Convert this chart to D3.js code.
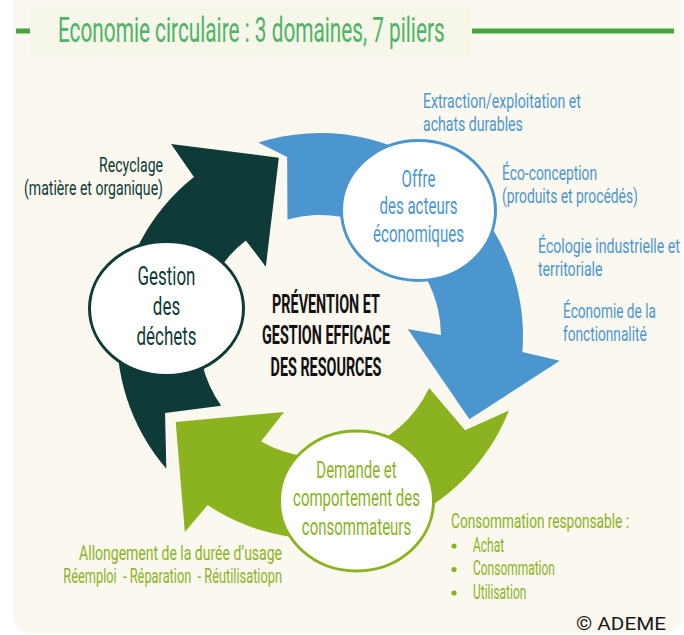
<!DOCTYPE html>
<html>
<head>
<meta charset="utf-8">
<script src="https://d3js.org/d3.v7.min.js"></script>
<style>
  body { margin: 0; background: #fff; }
  text { font-family: Roboto, "Open Sans", sans-serif; white-space: pre; }
</style>
</head>
<body>
<svg id="vis" width="684" height="635"></svg>
<script>
  // - - - - - - - - texts of the diagram - - - - - - - -
  var title = "Economie circulaire : 3 domaines, 7 piliers";
  var centerLines = ["PRÉVENTION ET", "GESTION EFFICACE", "DES RESOURCES"];
  var domainOffre = ["Offre", "des acteurs", "économiques"];
  var domainDemande = ["Demande et", "comportement des", "consommateurs"];
  var domainDechets = ["Gestion", "des", "déchets"];
  var pillarsOffre = [
    ["Extraction/exploitation et", "achats durables"],
    ["Éco-conception", "(produits et procédés)"],
    ["Écologie industrielle et", "territoriale"],
    ["Économie de la", "fonctionnalité"]
  ];
  var pillarConso = "Consommation responsable :";
  var consoItems = ["Achat", "Consommation", "Utilisation"];
  var pillarUsage = ["Allongement de la durée d’usage", "Réemploi  - Réparation  - Réutilisatiopn"];
  var pillarRecyclage = ["Recyclage", "(matière et organique)"];
  var credit = "© ADEME";

  var cream = "#fbf8ef",
      blue = "#4b96cf",
      dark = "#0e3a37",
      green = "#8ab31f";

  var svg = d3.select("#vis");

  // panel
  svg.append("rect")
    .attr("x", 13).attr("y", -16)
    .attr("width", 668).attr("height", 649)
    .attr("rx", 16)
    .attr("fill", cream);

  // title
  svg.append("rect")
    .attr("x", 31).attr("y", 8).attr("width", 440).attr("height", 48)
    .attr("fill", "#f6f6e9");
  svg.append("line").attr("x1", 16).attr("x2", 30).attr("y1", 31).attr("y2", 31)
    .attr("stroke", "#44a63c").attr("stroke-width", 5);
  svg.append("line").attr("x1", 472).attr("x2", 674).attr("y1", 31).attr("y2", 31)
    .attr("stroke", "#44a63c").attr("stroke-width", 5);

  // polar helpers, cycle centre
  var cx = 320, cy = 336;
  var rad = d3.scaleLinear().domain([0, 360]).range([0, 2 * Math.PI]);
  function pt(r, a) { return [cx + r * Math.cos(rad(a)), cy + r * Math.sin(rad(a))]; }

  var R_OUT = 203, R_IN = 121;

  // each arrow: tail (outer angle, inner angle, notch [r,a]), body end, head corners and tip
  var arrows = [
    { color: blue, tailOut: 252.3, tailIn: 254.4, notch: [182, 259.6],
      outerEnd: 364.5, headOuter: [241, 365.9], tip: [171, 389.1], headInner: [88, 355.5], innerEnd: 359.5 },
    { color: dark, tailOut: 139.2, tailIn: 144.8, notch: [173, 153.6],
      outerEnd: 231.6, headOuter: [243, 232.2], tip: [183, 257], headInner: [88, 232], innerEnd: 232.2 },
    { color: green, tailOut: 21.5, tailIn: 25.5, notch: [173, 33],
      outerEnd: 123.6, headOuter: [238, 124.6], tip: [168, 149.2], headInner: [84, 115.3], innerEnd: 119.2 }
  ];

  function arrowPath(g) {
    var p = d3.path();
    var s = pt(R_OUT, g.tailOut);
    p.moveTo(s[0], s[1]);
    p.arc(cx, cy, R_OUT, rad(g.tailOut), rad(g.outerEnd), false);
    [g.headOuter, g.tip, g.headInner].forEach(function(q) {
      var c = pt(q[0], q[1]); p.lineTo(c[0], c[1]);
    });
    var e = pt(R_IN, g.innerEnd);
    p.lineTo(e[0], e[1]);
    p.arc(cx, cy, R_IN, rad(g.innerEnd), rad(g.tailIn), true);
    var n = pt(g.notch[0], g.notch[1]);
    p.lineTo(n[0], n[1]);
    p.closePath();
    return p.toString();
  }

  svg.selectAll(".arrow")
    .data(arrows)
    .enter().append("path")
    .attr("class", "arrow")
    .attr("d", arrowPath)
    .attr("fill", function(d) { return d.color; })
    .attr("stroke", cream)
    .attr("stroke-width", 7)
    .attr("stroke-linejoin", "round")
    .attr("paint-order", "stroke");

  // domain circles
  var circles = [
    { x: 418.5, y: 210.5, rx: 77, ry: 70, color: blue },
    { x: 356.5, y: 501, rx: 77, ry: 70, color: green },
    { x: 166.5, y: 308.5, rx: 77, ry: 67, color: dark }
  ];
  svg.selectAll(".dom")
    .data(circles)
    .enter().append("ellipse")
    .attr("class", "dom")
    .attr("cx", function(d) { return d.x; })
    .attr("cy", function(d) { return d.y; })
    .attr("rx", function(d) { return d.rx; })
    .attr("ry", function(d) { return d.ry; })
    .attr("fill", "#fff")
    .attr("stroke", function(d) { return d.color; })
    .attr("stroke-width", 3);

  // text block, squeezed horizontally so its widest line gets the given width
  function block(lines, x, y, lh, size, anchor, color, width, weight) {
    var g = svg.append("g").attr("transform", "translate(" + x + "," + y + ")");
    var t = g.selectAll("text")
      .data(lines)
      .enter().append("text")
      .attr("y", function(d, i) { return i * lh; })
      .attr("text-anchor", anchor)
      .attr("font-size", size)
      .attr("font-weight", weight || 400)
      .attr("fill", color)
      .text(function(d) { return d; });
    var w = d3.max(t.nodes(), function(n) { return n.getComputedTextLength(); });
    g.attr("transform", "translate(" + x + "," + y + ") scale(" + (width / w) + ",1)");
    return g;
  }

  block([title], 58, 42, 0, 36, "start", "#4db465", 387);

  block(centerLines, 326, 313, 31.5, 26, "middle", "#111", 128, 700);

  block(domainOffre, 418.5, 187, 27.5, 24, "middle", blue, 91);
  block(domainDemande, 356.5, 478, 28.5, 24, "middle", green, 127);
  block(domainDechets, 166.5, 285, 30, 25, "middle", dark, 60);

  var offreX = [423, 502, 538, 563],
      offreY = [108, 180, 253, 318],
      offreW = [158, 136, 142, 93];
  pillarsOffre.forEach(function(p, i) {
    block(p, offreX[i], offreY[i], 23.5, 21, "start", blue, offreW[i]);
  });

  block(pillarRecyclage, 163, 172, 23, 21, "end", dark, 139);
  block([pillarUsage[0]], 282, 560, 0, 21, "end", green, 203);
  block([pillarUsage[1]], 282, 583, 0, 21, "end", green, 219);
  block([pillarConso], 451, 528, 0, 21, "start", green, 178);
  block(consoItems, 473, 552, 23.5, 21, "start", green, 82);

  svg.selectAll(".bullet")
    .data(consoItems)
    .enter().append("circle")
    .attr("class", "bullet")
    .attr("cx", 454)
    .attr("cy", function(d, i) { return 546 + i * 23.5; })
    .attr("r", 2.6)
    .attr("fill", green);

  svg.append("text")
    .attr("x", 576).attr("y", 630)
    .attr("font-family", "Lato, sans-serif")
    .attr("font-size", 18)
    .attr("fill", "#1a1a1a")
    .attr("textLength", 90)
    .attr("lengthAdjust", "spacingAndGlyphs")
    .text(credit);
</script>
</body>
</html>
